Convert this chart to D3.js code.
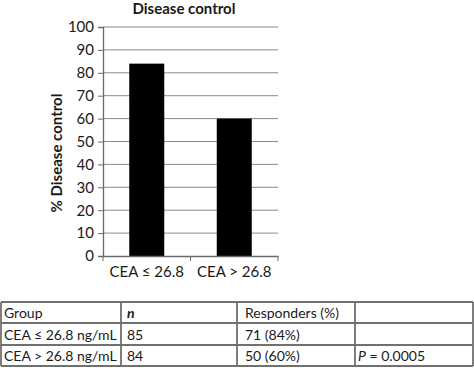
<!DOCTYPE html>
<html><head><meta charset="utf-8">
<script src="https://cdn.jsdelivr.net/npm/d3@7"></script>
<style>body{margin:0;background:#fff;} text{font-family:Lato,"Open Sans",sans-serif;}</style>
</head><body>
<svg id="c" width="474" height="368"></svg>
<script>
const categories = ["CEA \u2264 26.8", "CEA > 26.8"];
const values = [84, 60];
const yTicks = [0,10,20,30,40,50,60,70,80,90,100];
const tableHeader = ["Group", "n", "Responders (%)", ""];
const tableRows = [
  ["CEA \u2264 26.8 ng/mL", "85", "71 (84%)", ""],
  ["CEA > 26.8 ng/mL", "84", "50 (60%)", "P = 0.0005"]
];

const svg = d3.select("#c");
const m = {l:103, r:278, t:27, b:256};
const x = d3.scaleBand().domain(categories).range([m.l, m.r]).paddingInner(0.6).paddingOuter(0.3);
const y = d3.scaleLinear().domain([0,100]).range([m.b, m.t]);

// gridlines
svg.append("g").selectAll("line").data(yTicks.filter(d=>d>0)).join("line")
  .attr("x1", m.l).attr("x2", m.r).attr("y1", d=>y(d)).attr("y2", d=>y(d))
  .attr("stroke", "#8a8a8a").attr("stroke-width", 1);

// bars
svg.append("g").selectAll("rect").data(values).join("rect")
  .attr("x", (d,i)=>x(categories[i])).attr("width", x.bandwidth())
  .attr("y", d=>y(d)).attr("height", d=>m.b - y(d)).attr("fill", "#000");

// y axis
const ya = svg.append("g").attr("transform", `translate(${m.l},0)`)
  .call(d3.axisLeft(y).tickValues(yTicks).tickSize(5).tickPadding(4));
ya.select(".domain").attr("stroke", "#6a6a6a").attr("stroke-width", 1.3);
ya.selectAll(".tick line").attr("stroke", "#6a6a6a");
ya.selectAll("text").style("font-size", "15px").attr("fill", "#1a1a1a").style("font-family", "Lato");

// x axis
const xa = svg.append("g").attr("transform", `translate(0,${m.b})`)
  .call(d3.axisBottom(x).tickSize(0).tickPadding(10));
xa.select(".domain").attr("stroke", "#6a6a6a").attr("stroke-width", 1.3);
xa.selectAll("text").style("font-size", "15px").attr("fill", "#1a1a1a").style("font-family", "Lato");
// category boundary ticks
const bounds = [m.l, (m.l+m.r)/2, m.r];
xa.selectAll(".bt").data(bounds).join("line").attr("class","bt")
  .attr("x1", d=>d).attr("x2", d=>d).attr("y1", 0).attr("y2", 5).attr("stroke", "#6a6a6a");

// title
svg.append("text").attr("x", 184).attr("y", 14).attr("text-anchor", "middle")
  .style("font-size", "15px").style("font-weight", "bold").attr("fill", "#1a1a1a").text("Disease control");
svg.append("text").attr("transform", "translate(62,153) rotate(-90)").attr("text-anchor", "middle")
  .style("font-size", "15px").style("font-weight", "bold").attr("fill", "#1a1a1a").text("% Disease control");

// table
const colX = [1, 121, 237, 355, 473];
const pad = [3, 6, 8, 3];
const rowY = [302, 323, 345, 366];
const tg = svg.append("g");
const allRows = [tableHeader, ...tableRows];
allRows.forEach((row, ri) => {
  row.forEach((cell, ci) => {
    if (!cell) return;
    const t = tg.append("text").attr("x", colX[ci] + pad[ci]).attr("y", rowY[ri+1] - 5)
      .style("font-size", "14px").attr("fill", "#1a1a1a");
    if (ri === 0 && ci === 1) { t.style("font-style","italic").style("font-weight","bold").text(cell); }
    else if (cell.startsWith("P =")) {
      t.append("tspan").style("font-style","italic").text("P");
      t.append("tspan").text(cell.slice(1));
    } else t.text(cell);
  });
});
tg.selectAll(".h").data(rowY).join("line").attr("class","h")
  .attr("x1", colX[0]).attr("x2", colX[4]).attr("y1", d=>d).attr("y2", d=>d)
  .attr("stroke", "#707070").attr("stroke-width", 1.8);
tg.selectAll(".v").data(colX).join("line").attr("class","v")
  .attr("x1", d=>d).attr("x2", d=>d).attr("y1", rowY[0]).attr("y2", rowY[3])
  .attr("stroke", "#707070").attr("stroke-width", 1.8);
</script>
</body></html>
